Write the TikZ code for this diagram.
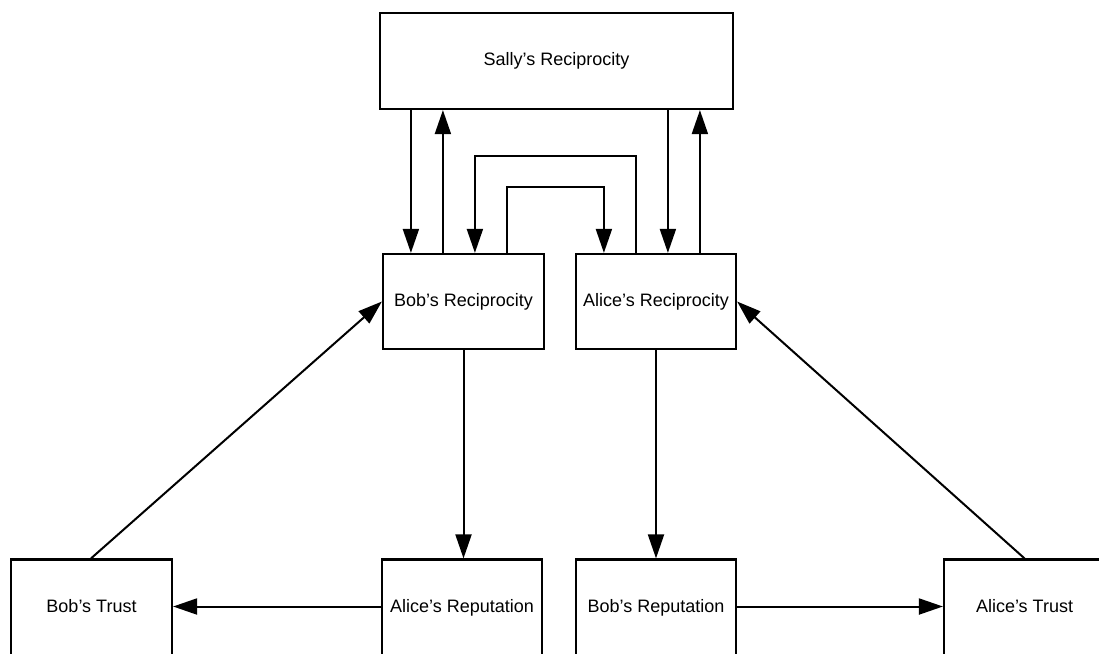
\documentclass[tikz,border=0pt]{standalone}
\usepackage{fontspec}
\setmainfont{Liberation Sans}
\usetikzlibrary{arrows.meta}
\begin{document}
\begin{tikzpicture}[x=1pt,y=-1pt,
  box/.style={draw, line width=2.2pt, minimum height=95pt, inner sep=0pt,
              text height=13pt, text depth=4pt,
              font=\fontsize{18}{22}\selectfont},
  arr/.style={line width=2pt, -{Triangle[length=24pt,width=16pt]}}]
\useasboundingbox (0,0) rectangle (1099,653);

% boxes
\node[box, minimum width=353pt, minimum height=96pt] (Sally) at (556.5,61) {Sally’s Reciprocity};
\node[box, minimum width=161pt] (BobR)   at (463.5,301.5) {Bob’s Reciprocity};
\node[box, minimum width=160pt] (AliceR) at (656,301.5)   {Alice’s Reciprocity};
% the bottom row runs past the lower edge of the page
\node[box, minimum width=161pt, minimum height=96pt] (BobT)     at (91.5,607.5)   {Bob’s Trust};
\node[box, minimum width=160pt, minimum height=96pt] (AliceRep) at (462,607.5)    {Alice’s Reputation};
\node[box, minimum width=160pt, minimum height=96pt] (BobRep)   at (656,607.5)    {Bob’s Reputation};
\node[box, minimum width=161pt, minimum height=96pt] (AliceT)   at (1024.5,607.5) {Alice’s Trust};

% ports along the tops of the two reciprocity boxes
\coordinate (b1) at ([xshift=29pt]BobR.north west);
\coordinate (b2) at ([xshift=61pt]BobR.north west);
\coordinate (b3) at ([xshift=93pt]BobR.north west);
\coordinate (b4) at ([xshift=125pt]BobR.north west);
\coordinate (a1) at ([xshift=29pt]AliceR.north west);
\coordinate (a2) at ([xshift=61pt]AliceR.north west);
\coordinate (a3) at ([xshift=93pt]AliceR.north west);
\coordinate (a4) at ([xshift=125pt]AliceR.north west);

% Sally <-> Bob and Alice
\draw[arr] (Sally.south -| b1) -- (b1);
\draw[arr] (b2) -- (Sally.south -| b2);
\draw[arr] (Sally.south -| a3) -- (a3);
\draw[arr] (a4) -- (Sally.south -| a4);

% Bob <-> Alice
\draw[arr] (b4) -- ++(0,-66) -| (a1);
\draw[arr] (a2) -- ++(0,-97) -| (b3);

% reciprocity -> reputation
\draw[arr] (BobR.south) -- (BobR.south |- AliceRep.north);
\draw[arr] (AliceR.south) -- (BobRep.north);

% reputation -> trust
\draw[arr] ([yshift=1pt]AliceRep.west) -- ([yshift=1pt]BobT.east);
\draw[arr] ([yshift=1pt]BobRep.east) -- ([yshift=1pt]AliceT.west);

% trust -> reciprocity
\draw[arr] ([xshift=-0.5pt]BobT.north) -- (BobR.west);
\draw[arr] (AliceT.north) -- (AliceR.east);
\end{tikzpicture}
\end{document}
